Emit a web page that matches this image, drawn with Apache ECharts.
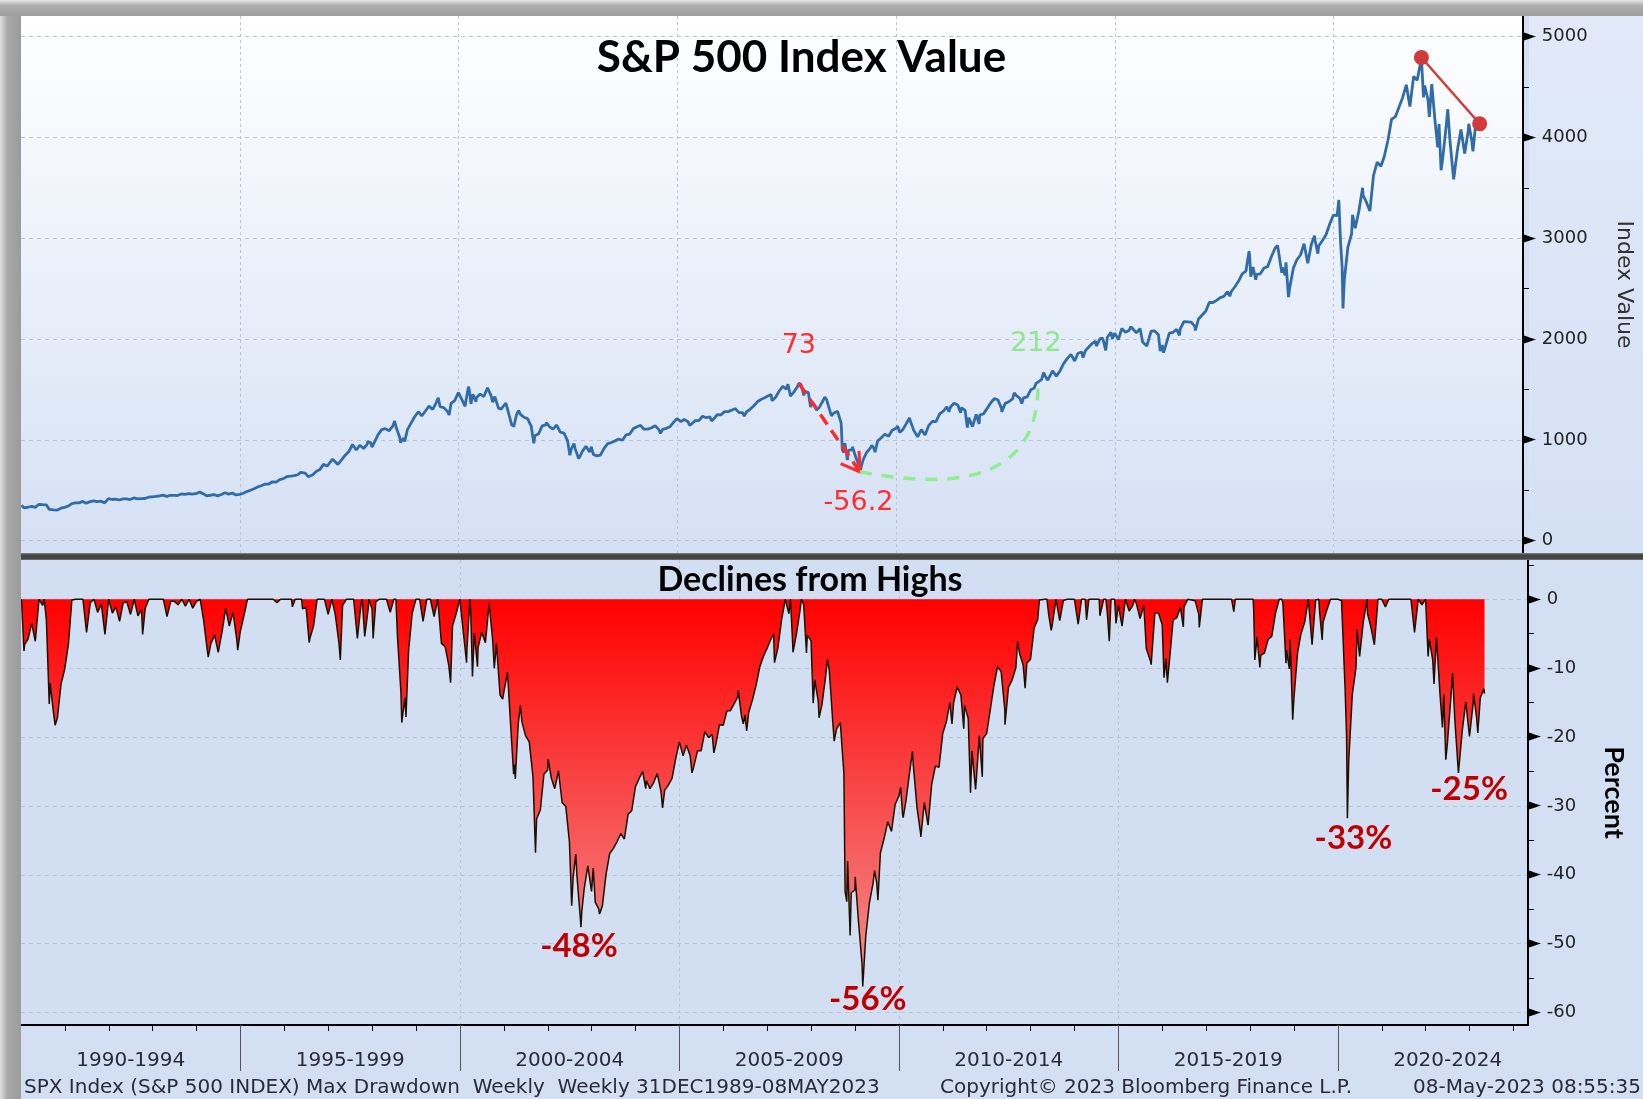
<!DOCTYPE html>
<html><head><meta charset="utf-8">
<script src="https://cdn.jsdelivr.net/npm/echarts@6/dist/echarts.min.js"></script>
<style>html,body{margin:0;padding:0;background:#d3e0f4;}#c{width:1643px;height:1099px;}</style>
</head><body><div id="c"></div>
<script>
// ---- DATA (weekly/monthly closes) ----
const dates = [
'1990-01-05','1990-01-26','1990-01','1990-02','1990-03','1990-04','1990-05','1990-06','1990-07-13','1990-07','1990-08-24','1990-08','1990-09','1990-10-12','1990-10','1990-11','1990-12',
'1991-01','1991-02','1991-03','1991-04','1991-05','1991-06','1991-07','1991-08','1991-09','1991-10','1991-11','1991-12',
'1992-01','1992-02','1992-03','1992-04','1992-05','1992-06','1992-07','1992-08','1992-09','1992-10-09','1992-10','1992-11','1992-12',
'1993-01','1993-02','1993-03','1993-04','1993-05','1993-06','1993-07','1993-08','1993-09','1993-10','1993-11','1993-12',
'1994-01','1994-02','1994-03','1994-04-08','1994-04','1994-05','1994-06','1994-07','1994-08','1994-09','1994-10','1994-11','1994-12-09','1994-12',
'1995-01','1995-02','1995-03','1995-04','1995-05','1995-06','1995-07','1995-08','1995-09','1995-10','1995-11','1995-12',
'1996-01','1996-02','1996-03-08','1996-03','1996-04','1996-05-24','1996-05','1996-06','1996-07-26','1996-07','1996-08','1996-09','1996-10','1996-11','1996-12',
'1997-01','1997-02-14','1997-02','1997-03','1997-04-11','1997-04','1997-05','1997-06','1997-07','1997-08','1997-09','1997-10-10','1997-10','1997-11','1997-12-05','1997-12',
'1998-01-09','1998-01','1998-02','1998-03','1998-04','1998-05','1998-06','1998-07-17','1998-07','1998-08-28','1998-09-04','1998-09','1998-10-09','1998-10','1998-11','1998-12',
'1999-01','1999-02','1999-03','1999-04','1999-05','1999-06','1999-07-16','1999-07','1999-08','1999-09','1999-10-15','1999-10','1999-11','1999-12',
'2000-01','2000-02-25','2000-02','2000-03-24','2000-03','2000-04-14','2000-04','2000-05-26','2000-05','2000-06','2000-07','2000-08','2000-09','2000-10-13','2000-10','2000-11','2000-12-22','2000-12',
'2001-01','2001-02','2001-03-23','2001-03','2001-04-06','2001-04','2001-05-18','2001-05','2001-06','2001-07','2001-08','2001-09-21','2001-09','2001-10','2001-11','2001-12',
'2002-01-04','2002-01','2002-02','2002-03','2002-04','2002-05','2002-06','2002-07-19','2002-07','2002-08-22','2002-08','2002-09','2002-10-04','2002-10-11','2002-10','2002-11','2002-12',
'2003-01-14','2003-01','2003-02','2003-03-07','2003-03-14','2003-03','2003-04','2003-05','2003-06','2003-07','2003-08','2003-09','2003-10','2003-11','2003-12',
'2004-01','2004-02','2004-03-26','2004-03','2004-04','2004-05','2004-06','2004-07','2004-08-13','2004-08','2004-09','2004-10','2004-11','2004-12',
'2005-01','2005-02','2005-03','2005-04-15','2005-04','2005-05','2005-06','2005-07','2005-08','2005-09','2005-10-14','2005-10','2005-11','2005-12',
'2006-01','2006-02','2006-03','2006-04','2006-05-05','2006-05','2006-06-16','2006-06','2006-07-14','2006-07','2006-08','2006-09','2006-10','2006-11','2006-12',
'2007-01','2007-02-23','2007-03-02','2007-03','2007-04','2007-05','2007-06-01','2007-06','2007-07-13','2007-07','2007-08-03','2007-08','2007-09','2007-10-12','2007-10','2007-11-23','2007-11','2007-12',
'2008-01-18','2008-01','2008-02','2008-03-07','2008-03','2008-04','2008-05-16','2008-05','2008-06','2008-07-11','2008-07','2008-08','2008-09','2008-10-10','2008-10-24','2008-10','2008-11-21','2008-11','2008-12',
'2009-01-02','2009-01','2009-02','2009-03-06','2009-03','2009-04','2009-05','2009-06-12','2009-06','2009-07-10','2009-07','2009-08','2009-09','2009-10','2009-11','2009-12',
'2010-01-15','2010-01','2010-02-05','2010-02','2010-03','2010-04-23','2010-04','2010-05','2010-06','2010-07-02','2010-07','2010-08','2010-09','2010-10','2010-11','2010-12',
'2011-01','2011-02','2011-03-18','2011-03','2011-04','2011-05','2011-06-24','2011-06','2011-07','2011-08-19','2011-08','2011-09','2011-10-07','2011-10','2011-11-25','2011-11','2011-12',
'2012-01','2012-02','2012-03','2012-04','2012-05','2012-06-01','2012-06','2012-07','2012-08','2012-09-14','2012-09','2012-10','2012-11-16','2012-11','2012-12',
'2013-01','2013-02','2013-03-15','2013-03','2013-04','2013-05-17','2013-05','2013-06-21','2013-06','2013-07','2013-08','2013-09','2013-10','2013-11','2013-12',
'2014-01','2014-02-07','2014-02','2014-03','2014-04-11','2014-04','2014-05','2014-06','2014-07-25','2014-07','2014-08','2014-09-19','2014-09','2014-10-17','2014-10','2014-11','2014-12-05','2014-12-12','2014-12',
'2015-01','2015-02','2015-03','2015-04','2015-05-15','2015-05','2015-06','2015-07','2015-08-21','2015-08','2015-09-25','2015-09','2015-10','2015-11','2015-12',
'2016-01-15','2016-01','2016-02-12','2016-02','2016-03','2016-04','2016-05','2016-06-24','2016-06','2016-07','2016-08','2016-09','2016-10','2016-11-04','2016-11','2016-12',
'2017-01','2017-02','2017-03','2017-04','2017-05','2017-06','2017-07','2017-08-18','2017-08','2017-09','2017-10','2017-11','2017-12',
'2018-01-26','2018-01','2018-02-09','2018-02','2018-03-23','2018-03','2018-04','2018-05','2018-06','2018-07','2018-08','2018-09-21','2018-09','2018-10-26','2018-10','2018-11-23','2018-11','2018-12-21','2018-12',
'2019-01','2019-02','2019-03','2019-04','2019-05','2019-06','2019-07-26','2019-07','2019-08-23','2019-08','2019-09','2019-10','2019-11','2019-12',
'2020-01','2020-02-14','2020-02','2020-03-13','2020-03-20','2020-03','2020-04','2020-05','2020-06-08','2020-06','2020-07','2020-08','2020-09-04','2020-09','2020-10','2020-11','2020-12',
'2021-01','2021-02','2021-03','2021-04','2021-05','2021-06','2021-07','2021-08','2021-09','2021-10','2021-11','2021-12',
'2022-01-04','2022-01-21','2022-01','2022-02','2022-03-11','2022-03','2022-04','2022-05-20','2022-05','2022-06-17','2022-06','2022-07','2022-08-12','2022-08','2022-09','2022-10-14','2022-10','2022-11','2022-12',
'2023-01','2023-02-03','2023-02','2023-03-10','2023-03','2023-04','2023-05-05'
];
const closes = [
352.2,325.8,329.1,331.9,339.9,330.8,361.2,358.0,367.3,356.2,311.5,322.6,306.1,300.0,304.0,322.2,330.2,
343.9,367.1,375.2,375.3,389.8,371.2,387.8,395.4,387.9,392.5,375.2,417.1,
408.8,412.7,403.7,414.9,415.4,408.1,424.2,414.0,417.8,402.7,418.7,431.4,435.7,
438.8,443.4,451.7,440.2,450.2,450.5,448.1,463.6,458.9,467.8,461.8,466.5,
481.6,467.1,445.8,441.0,450.9,456.5,444.3,458.3,475.5,462.7,472.4,454.0,446.0,459.3,
470.4,487.4,500.7,514.7,533.4,544.8,562.1,561.9,584.4,581.5,605.4,615.9,
636.0,640.4,633.5,645.5,654.2,678.5,669.1,670.6,635.9,639.9,652.0,687.3,705.3,757.0,740.7,
786.2,808.5,790.8,757.1,737.7,801.3,848.3,885.1,954.3,899.5,947.3,967.0,914.6,955.4,983.8,970.4,
927.7,980.3,1049.3,1101.8,1111.8,1090.8,1133.8,1186.8,1120.7,1027.1,973.9,1017.0,984.4,1098.7,1163.6,1229.2,
1279.6,1238.3,1286.4,1335.2,1301.8,1372.7,1418.8,1328.7,1320.4,1282.7,1247.4,1362.9,1388.9,1469.3,
1394.5,1333.4,1366.4,1527.5,1498.6,1356.6,1452.4,1378.0,1420.6,1454.6,1430.8,1517.7,1436.5,1374.2,1429.4,1315.2,1305.9,1320.3,
1366.0,1239.9,1139.8,1160.3,1128.4,1249.5,1292.0,1255.8,1224.4,1211.2,1133.6,965.8,1040.9,1059.8,1139.5,1148.1,
1172.5,1130.2,1106.7,1147.4,1076.9,1067.1,989.8,847.8,911.6,962.7,916.1,815.3,800.6,835.3,885.8,936.3,879.8,
931.7,855.7,841.2,828.9,833.3,848.2,916.9,963.6,974.5,990.3,1008.0,996.0,1050.7,1058.2,1111.9,
1131.1,1144.9,1108.1,1126.2,1107.3,1120.7,1140.8,1101.7,1064.8,1104.2,1114.6,1130.2,1173.8,1211.9,
1181.3,1203.6,1180.6,1142.6,1156.9,1191.5,1191.3,1234.2,1220.3,1228.8,1186.6,1207.0,1249.5,1248.3,
1280.1,1280.7,1294.9,1310.6,1325.8,1270.1,1251.5,1270.2,1236.2,1276.7,1303.8,1335.9,1377.9,1400.6,1418.3,
1438.2,1451.2,1387.2,1420.9,1482.4,1530.6,1536.3,1503.4,1552.5,1455.3,1433.1,1474.0,1526.8,1561.8,1549.4,1440.7,1481.1,1468.4,
1325.2,1378.6,1330.6,1293.4,1322.7,1385.6,1425.4,1400.4,1280.0,1239.5,1267.4,1282.8,1166.4,899.2,876.8,968.8,800.0,896.2,903.3,
931.8,825.9,735.1,683.4,797.9,872.8,919.1,946.2,919.3,879.1,987.5,1020.6,1057.1,1036.2,1095.6,1115.1,
1136.0,1073.9,1066.2,1104.5,1169.4,1217.3,1186.7,1089.4,1030.7,1022.6,1101.6,1049.3,1141.2,1183.3,1180.6,1257.6,
1286.1,1327.2,1279.2,1325.8,1363.6,1345.2,1268.5,1320.6,1292.3,1123.5,1218.9,1131.4,1155.5,1253.3,1158.7,1247.0,1257.6,
1312.4,1365.7,1408.5,1397.9,1310.3,1278.0,1362.2,1379.3,1406.6,1465.8,1440.7,1412.2,1359.9,1416.2,1426.2,
1498.1,1514.7,1560.7,1569.2,1597.6,1667.5,1630.7,1592.4,1606.3,1685.7,1633.0,1681.6,1756.5,1805.8,1848.4,
1782.6,1797.0,1859.5,1872.3,1815.7,1884.0,1923.6,1960.2,1978.3,1930.7,2003.4,2010.4,1972.3,1886.8,2018.1,2067.6,2075.4,2002.3,2058.9,
1995.0,2104.5,2067.9,2085.5,2122.7,2107.4,2063.1,2103.8,1970.9,1972.2,1931.3,1920.0,2079.4,2080.4,2043.9,
1880.3,1940.2,1864.8,1932.2,2059.7,2065.3,2097.0,2037.4,2098.9,2173.6,2171.0,2168.3,2126.2,2085.2,2198.8,2238.8,
2278.9,2363.6,2362.7,2384.2,2411.8,2423.4,2470.3,2425.6,2471.7,2519.4,2575.3,2647.6,2673.6,
2872.9,2823.8,2619.6,2713.8,2588.3,2640.9,2648.1,2705.3,2718.4,2816.3,2901.5,2929.7,2914.0,2658.7,2711.7,2632.6,2760.2,2416.6,2506.9,
2704.1,2784.5,2834.4,2945.8,2752.1,2941.8,3025.9,2980.4,2847.1,2926.5,2976.7,3037.6,3141.0,3230.8,
3225.5,3380.2,2954.2,2711.0,2304.9,2584.6,2912.4,3044.3,3232.4,3100.3,3271.1,3500.3,3427.0,3363.0,3270.0,3621.6,3756.1,
3714.2,3811.2,3972.9,4181.2,4204.1,4297.5,4395.3,4522.7,4307.5,4605.4,4567.0,4766.2,
4793.5,4398.0,4515.6,4373.9,4204.3,4530.4,4131.9,3901.4,4132.2,3674.8,3785.4,4130.3,4280.2,3955.0,3585.6,3583.1,3872.0,4080.1,3839.5,
4076.6,4136.5,3970.2,3861.6,4109.3,4169.5,4136.2
];
const drawdowns = [
0,-7.5,-6.6,-5.8,-3.5,-6.1,0,-0.9,0,-3.0,-15.2,-12.2,-16.7,-18.3,-17.2,-12.3,-10.1,
-6.4,-0.1,0,0,0,-4.8,-0.5,0,-1.9,-0.7,-5.1,0,
-2.0,-1.1,-3.2,-0.5,-0.4,-2.2,0,-2.4,-1.5,-5.1,-1.3,0,0,
0,0,0,-2.5,-0.3,-0.3,-0.8,0,-1.0,0,-1.3,-0.3,
0,-3.0,-7.4,-8.4,-6.4,-5.2,-7.7,-4.8,-1.3,-3.9,-1.9,-5.7,-7.4,-4.6,
-2.3,0,0,0,0,0,0,0,0,-0.5,0,0,
0,0,-1.1,0,0,0,-1.4,-1.2,-6.3,-5.7,-3.9,0,0,0,-2.2,
0,0,-2.2,-6.4,-8.8,-0.9,0,0,0,-5.7,-0.7,0,-5.4,-1.2,0,-1.4,
-5.7,-0.4,0,0,0,-1.9,0,0,-5.6,-13.5,-17.9,-14.3,-17.1,-7.4,-2.0,0,
0,-3.2,0,0,-2.5,0,0,-6.4,-6.9,-9.6,-12.1,-3.9,-2.1,0,
-5.1,-9.2,-7.0,0,-1.9,-11.2,-4.9,-9.8,-7.0,-4.8,-6.3,-0.6,-6.0,-10.0,-6.4,-13.9,-14.5,-13.6,
-10.6,-18.8,-25.4,-24.0,-26.1,-18.2,-15.4,-17.8,-19.8,-20.7,-25.8,-36.8,-31.9,-30.6,-25.4,-24.8,
-23.2,-26.0,-27.5,-24.9,-29.5,-30.1,-35.2,-44.5,-40.3,-37.0,-40.0,-46.6,-47.6,-45.3,-42.0,-38.7,-42.4,
-39.0,-44.0,-44.9,-45.7,-45.4,-44.5,-40.0,-36.9,-36.2,-35.2,-34.0,-34.8,-31.2,-30.7,-27.2,
-26.0,-25.0,-27.5,-26.3,-27.5,-26.6,-25.3,-27.9,-30.3,-27.7,-27.0,-26.0,-23.2,-20.7,
-22.7,-21.2,-22.7,-25.2,-24.3,-22.0,-22.0,-19.2,-20.1,-19.6,-22.3,-21.0,-18.2,-18.3,
-16.2,-16.2,-15.2,-14.2,-13.2,-16.9,-18.1,-16.8,-19.1,-16.4,-14.6,-12.5,-9.8,-8.3,-7.1,
-5.8,-5.0,-9.2,-7.0,-3.0,0,0,-2.1,0,-6.3,-7.7,-5.1,-1.7,0,-0.8,-7.8,-5.2,-6.0,
-15.1,-11.7,-14.8,-17.2,-15.3,-11.3,-8.7,-10.3,-18.0,-20.6,-18.8,-17.9,-25.3,-42.4,-43.9,-38.0,-48.8,-42.6,-42.2,
-40.3,-47.1,-52.9,-56.2,-48.9,-44.1,-41.2,-39.4,-41.1,-43.7,-36.8,-34.7,-32.3,-33.7,-29.8,-28.6,
-27.3,-31.2,-31.7,-29.3,-25.1,-22.1,-24.0,-30.2,-34.0,-34.5,-29.5,-32.8,-26.9,-24.2,-24.4,-19.5,
-17.7,-15.0,-18.1,-15.1,-12.7,-13.9,-18.8,-15.4,-17.3,-28.1,-22.0,-27.6,-26.0,-19.8,-25.8,-20.2,-19.5,
-16.0,-12.6,-9.8,-10.5,-16.1,-18.2,-12.8,-11.7,-9.9,-6.1,-7.8,-9.6,-12.9,-9.3,-8.7,
-4.1,-3.0,-0.1,0,0,0,-2.2,-4.5,-3.7,0,-3.1,-0.2,0,0,0,
-3.6,-2.8,0,0,-3.0,0,0,0,0,-2.4,0,0,-1.9,-6.1,0,0,0,-3.5,-0.8,
-3.9,0,-1.7,-0.9,0,-0.7,-2.8,-0.9,-7.2,-7.1,-9.0,-9.5,-2.0,-2.0,-3.7,
-11.4,-8.6,-12.1,-9.0,-3.0,-2.7,-1.2,-4.0,-1.1,0,-0.1,-0.2,-2.2,-4.1,0,0,
0,0,0,0,0,0,0,-1.8,0,0,0,0,0,
0,-1.7,-8.8,-5.5,-9.9,-8.1,-7.8,-5.8,-5.4,-2.0,0,0,-0.5,-9.3,-7.4,-10.1,-5.8,-17.5,-14.4,
-7.7,-5.0,-3.3,0,-6.6,-0.1,0,-1.5,-5.9,-3.3,-1.6,0,0,0,
-0.2,0,-12.6,-19.8,-31.8,-23.5,-13.8,-9.9,-4.4,-8.3,-3.2,0,-2.1,-3.9,-6.6,0,0,
-1.1,0,0,0,0,0,0,0,-4.8,0,-0.8,0,
0,-8.3,-5.8,-8.8,-12.3,-5.5,-13.8,-18.6,-13.8,-23.3,-21.0,-13.8,-10.7,-17.5,-25.2,-25.3,-19.2,-14.9,-19.9,
-15.0,-13.7,-17.2,-19.4,-14.3,-13.0,-13.7
];
const periodLabels = ['1990-1994','1995-1999','2000-2004','2005-2009','2010-2014','2015-2019','2020-2024'];
const periodBounds = [1995, 2000, 2005, 2010, 2015, 2020];
const indexTicks = [0, 1000, 2000, 3000, 4000, 5000];
const pctTicks = [0, -10, -20, -30, -40, -50, -60];
// annotations
const cyclePeak = '2007-10-12', cycleTrough = '2009-03-06', cycleRecovery = '2013-03';
const weeksDown = '73', dropPct = '-56.2', weeksUp = '212';
const recentPeak = '2022-01-04', recentEnd = '2023-05-05';
const troughDates = ['2002-10-04', '2009-03-06', '2020-03-20', '2022-10-14'];
const troughTexts = ['-48%', '-56%', '-33%', '-25%'];
const titleText = 'S&P 500 Index Value';
const subTitleText = 'Declines from Highs';
const footerLeft = 'SPX Index (S&P 500 INDEX) Max Drawdown  Weekly  Weekly 31DEC1989-08MAY2023';
const footerMid = 'Copyright\u00A9 2023 Bloomberg Finance L.P.';
const footerRight = '08-May-2023 08:55:35';

if (closes.length !== dates.length || drawdowns.length !== dates.length) {
  throw new Error('length mismatch ' + dates.length + ' ' + closes.length + ' ' + drawdowns.length);
}

function toYear(s) {
  const p = s.split('-').map(Number);
  const y = p[0], m = p[1];
  const d = p[2] || new Date(Date.UTC(y, m, 0)).getUTCDate();
  const t0 = Date.UTC(y, 0, 1), t1 = Date.UTC(y + 1, 0, 1);
  return y + (Date.UTC(y, m - 1, d) - t0) / (t1 - t0);
}
const idxData = dates.map((d, i) => [toYear(d), closes[i]]);
const ddData = dates.map((d, i) => [toYear(d), drawdowns[i]]);
const valueAt = d => closes[dates.indexOf(d)];
const ddAt = d => drawdowns[dates.indexOf(d)];
const periodCenters = periodLabels.map(l => parseInt(l, 10) + 2.5);

const X_MIN = 1990, X_MAX = 2024.33;
const FONT = 'DejaVu Sans';
const gridLine = '#b8c4d9';
const troughOffsets = [[-2, 19], [5, 13], [6, 20], [9, 16]];
const tickRich = {t: {fontFamily: FONT, fontSize: 17, color: '#000'}};
const tickFmt = v => '{t|\u25BA} ' + v;

const chart = echarts.init(document.getElementById('c'), null, {renderer: 'canvas'});
const option = {
  backgroundColor: '#d3e0f4',
  animation: false,
  grid: [
    {left: 21, top: 16, width: 1507, height: 537, show: true, borderWidth: 0,
     backgroundColor: {type: 'linear', x: 0, y: 0, x2: 0, y2: 1,
       colorStops: [{offset: 0, color: '#ffffff'}, {offset: 1, color: '#d4e0f4'}]}},
    {left: 21, top: 560, width: 1507, height: 465, show: true, borderWidth: 0, backgroundColor: '#d2dff3'}
  ],
  xAxis: [
    {gridIndex: 0, type: 'value', min: X_MIN, max: X_MAX, interval: 5,
     axisLine: {show: false}, axisTick: {show: false}, axisLabel: {show: false},
     splitLine: {show: true, showMinLine: false, showMaxLine: false, lineStyle: {color: gridLine, type: [3, 3], width: 1}}},
    {gridIndex: 1, type: 'value', min: X_MIN, max: X_MAX, interval: 5,
     axisLine: {show: true, onZero: false, lineStyle: {color: '#000', width: 2}},
     axisTick: {show: true, customValues: periodBounds, length: 46, lineStyle: {color: '#555', width: 1}},
     minorTick: {show: true, splitNumber: 5, length: 6, lineStyle: {color: '#000', width: 1}},
     axisLabel: {show: true, customValues: periodCenters, margin: 26, fontFamily: FONT, fontSize: 20, color: '#2a2a3a',
       formatter: v => periodLabels[periodCenters.indexOf(v)] || ''},
     splitLine: {show: true, showMinLine: false, showMaxLine: false, lineStyle: {color: gridLine, type: [3, 3], width: 1}}}
  ],
  yAxis: [
    {gridIndex: 0, type: 'value', position: 'right', min: -122, max: 5205,
     axisLine: {show: true, onZero: false, lineStyle: {color: '#000', width: 2}},
     axisTick: {show: false},
     minorTick: {show: true, splitNumber: 2, length: 6, lineStyle: {color: '#000', width: 1}},
     axisLabel: {customValues: indexTicks, margin: 0, fontFamily: FONT, fontSize: 18, color: '#222',
       formatter: tickFmt, rich: tickRich},
     splitLine: {show: true, showMinLine: false, showMaxLine: false, lineStyle: {color: gridLine, type: [4, 4], width: 1}},
     name: 'Index Value', nameLocation: 'middle', nameRotate: -90, nameGap: 90,
     nameTextStyle: {fontFamily: FONT, fontSize: 22, color: '#333'}},
    {gridIndex: 1, type: 'value', position: 'right', min: -61.8, max: 5.7,
     axisLine: {show: true, onZero: false, lineStyle: {color: '#000', width: 2}},
     axisTick: {show: false},
     minorTick: {show: true, splitNumber: 2, length: 6, lineStyle: {color: '#000', width: 1}},
     axisLabel: {customValues: pctTicks, margin: 0, fontFamily: FONT, fontSize: 18, color: '#222',
       formatter: tickFmt, rich: tickRich},
     splitLine: {show: true, showMinLine: false, showMaxLine: false, lineStyle: {color: gridLine, type: [4, 4], width: 1}},
     name: 'Percent', nameLocation: 'middle', nameRotate: -90, nameGap: 72,
     nameTextStyle: {fontFamily: 'Lato', fontWeight: 'bold', fontSize: 27, color: '#000'}}
  ],
  series: [
    {type: 'line', name: 'SPX', xAxisIndex: 0, yAxisIndex: 0, data: idxData, showSymbol: false, symbol: 'none',
     lineStyle: {color: '#2f6ca8', width: 2.8}, z: 3,
     markLine: {silent: true, symbol: ['circle', 'circle'], symbolSize: 15, label: {show: false},
       lineStyle: {color: '#d23a3a', width: 2.5, type: 'solid'}, itemStyle: {color: '#d23a3a'},
       data: [[{coord: [toYear(recentPeak), valueAt(recentPeak)]}, {coord: [toYear(recentEnd), valueAt(recentEnd)]}]]}},
    {type: 'custom', xAxisIndex: 0, yAxisIndex: 0, z: 5, silent: true, clip: false,
     data: [[toYear(cyclePeak), valueAt(cyclePeak), toYear(cycleTrough), valueAt(cycleTrough), toYear(cycleRecovery), valueAt(cycleRecovery)]],
     encode: {x: [0, 2, 4], y: [1, 3, 5]},
     renderItem: (params, api) => {
       const p = api.coord([api.value(0), api.value(1)]);
       const t = api.coord([api.value(2), api.value(3)]);
       const r = api.coord([api.value(4), api.value(5)]);
       const ang = Math.atan2(t[1] - p[1], t[0] - p[0]);
       const arm = 21, spread = 0.56;
       const a1 = [t[0] - arm * Math.cos(ang - spread), t[1] - arm * Math.sin(ang - spread)];
       const a2 = [t[0] - arm * Math.cos(ang + spread), t[1] - arm * Math.sin(ang + spread)];
       const dx = r[0] - t[0];
       const txt = (x, y, s, c) => ({type: 'text', x: x, y: y,
         style: {text: s, fontFamily: FONT, fontSize: 27, fill: c, align: 'center', verticalAlign: 'middle'}});
       return {type: 'group', children: [
         {type: 'line', shape: {x1: p[0], y1: p[1], x2: t[0], y2: t[1]},
          style: {stroke: '#ff2a2a', lineWidth: 3.5, lineDash: [12, 7]}},
         {type: 'polyline', shape: {points: [a1, t, a2]}, style: {stroke: '#ff2a2a', lineWidth: 3, fill: null}},
         {type: 'bezierCurve', shape: {x1: t[0], y1: t[1], cpx1: t[0] + 0.37 * dx, cpy1: t[1] + 12,
            cpx2: r[0] + 2, cpy2: t[1] + 25, x2: r[0], y2: r[1]},
          style: {stroke: '#90ee90', lineWidth: 3.5, lineDash: [12, 10], fill: null}},
         txt(p[0], p[1] - 37, weeksDown, '#ff2d2d'),
         txt(t[0] - 1.5, t[1] + 31, dropPct, '#ff2d2d'),
         txt(r[0] - 2, r[1] - 38.5, weeksUp, '#8fe88f')
       ]};
     }},
    {type: 'line', name: 'Drawdown', xAxisIndex: 1, yAxisIndex: 1, data: ddData, showSymbol: false, symbol: 'none',
     lineStyle: {color: '#1e1000', width: 1.5}, z: 3,
     areaStyle: {opacity: 1, color: {type: 'linear', x: 0, y: 0, x2: 0, y2: 1,
       colorStops: [{offset: 0, color: '#ff0000'}, {offset: 1, color: '#f29090'}]}},
     markPoint: {silent: true, symbol: 'circle', symbolSize: 1, itemStyle: {color: 'rgba(0,0,0,0)'},
       data: troughDates.map((d, i) => ({coord: [toYear(d), ddAt(d)],
         label: {show: true, position: 'inside', offset: troughOffsets[i], formatter: troughTexts[i],
           fontFamily: 'Lato', fontWeight: 'bold', fontSize: 33, color: '#c00000'}}))}}
  ],
  graphic: [
    {type: 'rect', z: -10, silent: true, shape: {x: 1529, y: 16, width: 114, height: 537},
     style: {fill: {type: 'linear', x: 0, y: 0, x2: 0, y2: 1, colorStops: [{offset: 0, color: '#e2eaf9'}, {offset: 1, color: '#d4e0f4'}]}}},
    {type: 'rect', z: 100, silent: true, shape: {x: 21, y: 553, width: 1622, height: 7},
     style: {fill: {type: 'linear', x: 0, y: 0, x2: 0, y2: 1, colorStops: [{offset: 0, color: '#8c8c8c'}, {offset: 0.25, color: '#454545'}, {offset: 0.8, color: '#454545'}, {offset: 1, color: '#7a7a7a'}]}}},
    {type: 'rect', z: 100, silent: true, shape: {x: 0, y: 0, width: 21, height: 1099},
     style: {fill: {type: 'linear', x: 0, y: 0, x2: 1, y2: 0, colorStops: [{offset: 0, color: '#e0e0e0'}, {offset: 0.35, color: '#a9a9a9'}, {offset: 1, color: '#9b9b9b'}]}}},
    {type: 'rect', z: 101, silent: true, shape: {x: 0, y: 0, width: 1643, height: 16},
     style: {fill: {type: 'linear', x: 0, y: 0, x2: 0, y2: 1, colorStops: [{offset: 0, color: '#e4e4e4'}, {offset: 0.35, color: '#adadad'}, {offset: 1, color: '#9d9d9d'}]}}},
    {type: 'text', z: 50, x: 801.5, y: 57.5, style: {text: titleText, fontFamily: 'Lato', fontWeight: 'bold', fontSize: 44, fill: '#000', align: 'center', verticalAlign: 'middle'}},
    {type: 'text', z: 50, x: 810, y: 580, style: {text: subTitleText, fontFamily: 'Lato', fontWeight: 'bold', fontSize: 34, fill: '#000', align: 'center', verticalAlign: 'middle'}},
    {type: 'text', z: 50, x: 24, y: 1088, style: {text: footerLeft, fontFamily: FONT, fontSize: 20, fill: '#2a2a3a', align: 'left', verticalAlign: 'middle'}},
    {type: 'text', z: 50, x: 940, y: 1088, style: {text: footerMid, fontFamily: FONT, fontSize: 20, fill: '#2a2a3a', align: 'left', verticalAlign: 'middle'}},
    {type: 'text', z: 50, x: 1641, y: 1088, style: {text: footerRight, fontFamily: FONT, fontSize: 20, fill: '#2a2a3a', align: 'right', verticalAlign: 'middle'}}
  ]
};
chart.setOption(option);
</script></body></html>
